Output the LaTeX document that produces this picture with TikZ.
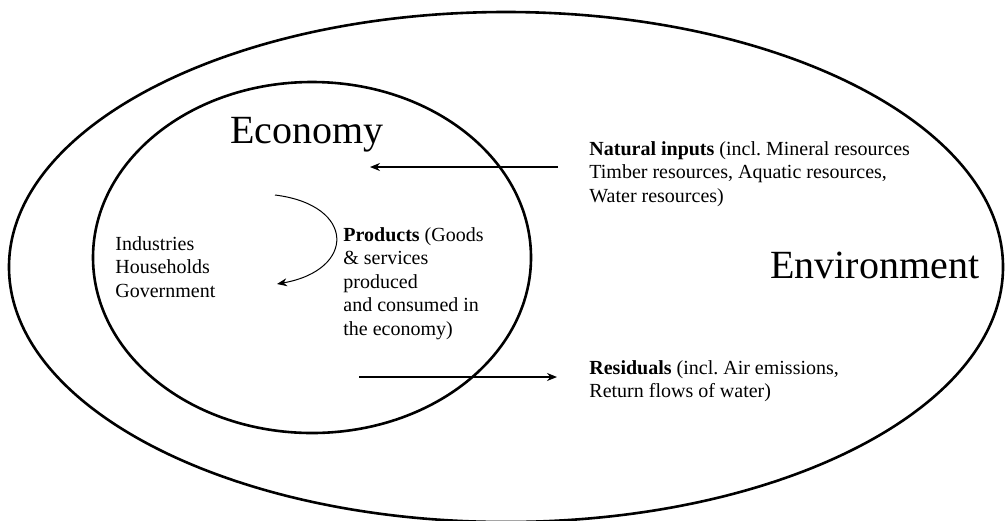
\documentclass[tikz,border=0pt]{standalone}
\usepackage{fontspec}
\setmainfont{Liberation Serif}
\frenchspacing
\usetikzlibrary{arrows.meta}

\begin{document}
\begin{tikzpicture}
  [x=0.5pt,y=-0.5pt,
   every node/.style={inner sep=0pt,anchor=base west,align=left},
   txt/.style={font=\fontsize{10}{11.75}\selectfont},
   big/.style={font=\fontsize{20}{24}\selectfont},
   flow/.style={line width=0.65pt,-{Stealth[length=5pt,width=4pt]}}]
  \useasboundingbox (0,0) rectangle (1005,520);

  % the two spheres
  \draw [line width=1.3pt] (506,267) ellipse [x radius=248.5pt, y radius=127.5pt];
  \draw [line width=1.3pt] (312,257.5) ellipse [x radius=109.5pt, y radius=87.75pt];

  \node (eco) [big] at (230,143) {Economy};
  \node (env) [big] at (770,278) {Environment};

  % multi-line nodes: base = baseline of the last line
  \node (sect) [txt] at (115,297) {Industries\\Households\\Government};
  \node (prod) [txt] at (343,335) {\textbf{Products} (Goods\\\& services\\produced\\and consumed in\\the economy)};
  \node (nat)  [txt] at (589,202) {\textbf{Natural inputs} (incl. Mineral resources\\Timber resources, Aquatic resources,\\Water resources)};
  \node (res)  [txt] at (589,397.5) {\textbf{Residuals} (incl. Air emissions,\\Return flows of water)};

  \coordinate (natA) at (558,167);
  \coordinate (natB) at (370,167);
  \coordinate (resA) at (359,377);
  \coordinate (resB) at (557,377);
  \coordinate (prodA) at (275,195);
  \coordinate (prodB) at (277,284);

  \draw [flow] (natA) -- (natB);
  \draw [flow] (resA) -- (resB);
  \draw [flow,line width=0.5pt] (prodA) .. controls (356,205) and (356,270) .. (prodB);
\end{tikzpicture}
\end{document}
